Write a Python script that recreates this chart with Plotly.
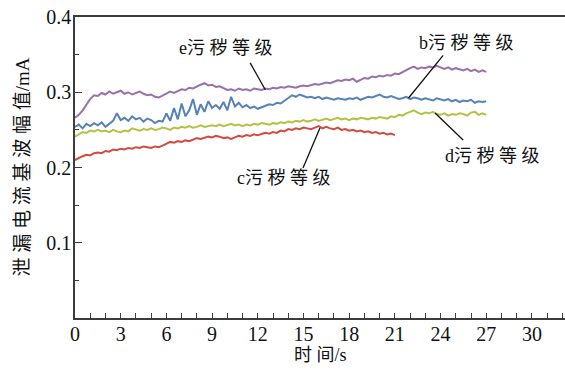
import plotly.graph_objects as go

# sampling grid (s)
t_step = 0.25
t_full = [round(i * t_step, 2) for i in range(109)]   # 0 .. 27
t_c = [round(i * t_step, 2) for i in range(85)]       # 0 .. 21

e_vals = [
    0.266, 0.270, 0.276, 0.284, 0.291, 0.296, 0.295, 0.299, 0.297, 0.301, 0.298, 0.300,
    0.302, 0.298, 0.300, 0.297, 0.299, 0.301, 0.298, 0.296, 0.297, 0.294, 0.293, 0.296,
    0.298, 0.301, 0.299, 0.302, 0.304, 0.303, 0.306, 0.305, 0.308, 0.310, 0.312, 0.309,
    0.310, 0.307, 0.308, 0.305, 0.303, 0.304, 0.302, 0.305, 0.303, 0.304, 0.302, 0.305,
    0.304, 0.303, 0.305, 0.304, 0.306, 0.305, 0.307, 0.306, 0.308, 0.307, 0.306, 0.308,
    0.309, 0.308, 0.310, 0.311, 0.310, 0.312, 0.313, 0.312, 0.314, 0.316, 0.315, 0.317,
    0.316, 0.318, 0.314, 0.316, 0.319, 0.318, 0.321, 0.320, 0.322, 0.321, 0.323, 0.322,
    0.325, 0.324, 0.327, 0.330, 0.332, 0.334, 0.331, 0.333, 0.332, 0.334, 0.333, 0.335,
    0.333, 0.331, 0.333, 0.330, 0.332, 0.331, 0.329, 0.331, 0.328, 0.330, 0.327, 0.329,
    0.327,
]

b_vals = [
    0.254, 0.257, 0.252, 0.258, 0.255, 0.259, 0.256, 0.260, 0.254, 0.258, 0.262, 0.272,
    0.263, 0.266, 0.262, 0.268, 0.264, 0.266, 0.261, 0.265, 0.263, 0.259, 0.262, 0.261,
    0.272, 0.262, 0.279, 0.264, 0.285, 0.268, 0.276, 0.291, 0.270, 0.284, 0.274, 0.288,
    0.279, 0.283, 0.278, 0.287, 0.276, 0.294, 0.281, 0.286, 0.280, 0.283, 0.279, 0.281,
    0.278, 0.280, 0.282, 0.284, 0.283, 0.286, 0.285, 0.289, 0.293, 0.296, 0.294, 0.297,
    0.295, 0.293, 0.294, 0.292, 0.294, 0.291, 0.293, 0.292, 0.290, 0.292, 0.291, 0.290,
    0.292, 0.291, 0.293, 0.290, 0.292, 0.294, 0.293, 0.295, 0.297, 0.294, 0.293, 0.295,
    0.293, 0.291, 0.292, 0.294, 0.291, 0.293, 0.292, 0.290, 0.292, 0.291, 0.289, 0.292,
    0.290, 0.289, 0.291, 0.288, 0.290, 0.287, 0.289, 0.288, 0.290, 0.286, 0.288, 0.287,
    0.288,
]

d_vals = [
    0.241, 0.244, 0.247, 0.246, 0.249, 0.248, 0.250, 0.248, 0.249, 0.247, 0.250, 0.248,
    0.247, 0.249, 0.248, 0.252, 0.250, 0.249, 0.251, 0.250, 0.252, 0.250, 0.251, 0.253,
    0.252, 0.250, 0.253, 0.252, 0.254, 0.253, 0.255, 0.253, 0.254, 0.256, 0.254, 0.255,
    0.256, 0.255, 0.257, 0.255, 0.256, 0.258, 0.256, 0.257, 0.255, 0.257, 0.256, 0.258,
    0.257, 0.259, 0.258, 0.257, 0.259, 0.258, 0.260, 0.259, 0.261, 0.260, 0.262, 0.261,
    0.263, 0.261, 0.262, 0.264, 0.262, 0.263, 0.265, 0.263, 0.264, 0.266, 0.264, 0.265,
    0.263, 0.265, 0.264, 0.266, 0.265, 0.264, 0.266, 0.265, 0.267, 0.266, 0.265, 0.268,
    0.267, 0.270, 0.269, 0.272, 0.274, 0.276, 0.273, 0.271, 0.273, 0.272, 0.274, 0.271,
    0.270, 0.272, 0.269, 0.271, 0.270, 0.272, 0.271, 0.269, 0.273, 0.274, 0.270, 0.272,
    0.270,
]

c_vals = [
    0.210, 0.213, 0.215, 0.217, 0.216, 0.219, 0.220, 0.219, 0.222, 0.221, 0.224, 0.223,
    0.225, 0.224, 0.226, 0.225, 0.227, 0.226, 0.228, 0.227, 0.226, 0.228, 0.227, 0.229,
    0.231, 0.234, 0.233, 0.235, 0.234, 0.236, 0.235, 0.237, 0.239, 0.238, 0.240, 0.241,
    0.240, 0.242, 0.241, 0.239, 0.240, 0.238, 0.240, 0.242, 0.241, 0.243, 0.242, 0.244,
    0.243, 0.245, 0.246, 0.245, 0.247, 0.246, 0.249, 0.248, 0.251, 0.250, 0.252, 0.251,
    0.253, 0.252, 0.251, 0.253, 0.255, 0.252, 0.254, 0.252, 0.251, 0.253, 0.250, 0.251,
    0.249, 0.250, 0.248, 0.249, 0.247, 0.248, 0.246, 0.247, 0.245, 0.246, 0.244, 0.245,
    0.243,
]

x_ticks = [0, 3, 6, 9, 12, 15, 18, 21, 24, 27, 30]
y_ticks = [0.1, 0.2, 0.3, 0.4]
y_minor = [0.05, 0.15, 0.25, 0.35]

sp = "\u2005"
labels = {
    "e": "e污" + sp + "秽" + sp + "等" + sp + "级",
    "b": "b污" + sp + "秽" + sp + "等" + sp + "级",
    "d": "d污" + sp + "秽" + sp + "等" + sp + "级",
    "c": "c污" + sp + "秽" + sp + "等" + sp + "级",
}
label_pos = {"e": (9.9, 0.359), "b": (25.72, 0.365), "d": (27.4, 0.215), "c": (13.7, 0.186)}
leader = {
    "e": ((11.5, 0.339), (12.5, 0.303)),
    "b": ((24.17, 0.349), (21.9, 0.2924)),
    "d": ((23.64, 0.2724), (25.48, 0.2365)),
    "c": ((16.08, 0.2525), (14.97, 0.1993)),
}

colors = {"e": "#9a70a9", "b": "#5782b6", "d": "#b4c243", "c": "#d24b40"}

fig = go.Figure()
for key, tt, vv in [("e", t_full, e_vals), ("b", t_full, b_vals), ("d", t_full, d_vals), ("c", t_c, c_vals)]:
    fig.add_trace(go.Scatter(x=tt, y=vv, mode="lines",
                             line=dict(color=colors[key], width=2),
                             showlegend=False, hoverinfo="skip"))

txt_font = dict(family="Liberation Serif, Noto Sans CJK SC", size=18, color="#111111")
for key in ["e", "b", "d", "c"]:
    (x0, y0), (x1, y1) = leader[key]
    fig.add_shape(type="line", x0=x0, y0=y0, x1=x1, y1=y1, xref="x", yref="y",
                  line=dict(color="#111111", width=1.3))
    lx, ly = label_pos[key]
    fig.add_annotation(x=lx, y=ly, xref="x", yref="y", text=labels[key],
                       showarrow=False, font=txt_font, xanchor="center", yanchor="middle")

# axis titles
ytitle_font = dict(family="Liberation Serif, Noto Sans CJK SC", size=19, color="#111111")
fig.add_annotation(x=0, y=0.5, xref="paper", yref="paper",
                   text="泄" + sp + "漏" + sp + "电" + sp + "流" + sp + "基" + sp + "波" + sp + "幅" + sp + "值/mA",
                   textangle=-90, showarrow=False, font=ytitle_font,
                   xanchor="center", yanchor="middle", xshift=-53)
fig.add_annotation(x=0.5, y=0, xref="paper", yref="paper",
                   text="时" + sp + "间/s", showarrow=False, font=txt_font,
                   xanchor="center", yanchor="middle", yshift=-37)

axis_col = "#3c3c3c"
tick_font = dict(family="Liberation Serif", size=20, color="#111111")
fig.update_xaxes(range=[0, 32.17], tickvals=x_ticks, ticks="inside", ticklen=5,
                 tickwidth=1, tickcolor=axis_col, showline=True, linecolor=axis_col,
                 linewidth=1.5, mirror=True, showgrid=False, zeroline=False,
                 tickfont=tick_font, ticklabelstandoff=-3,
                 minor=dict(dtick=1, tick0=0, ticks="inside", ticklen=5, tickwidth=1,
                            tickcolor=axis_col, showgrid=False))
fig.update_yaxes(range=[0, 0.4], tickvals=y_ticks, ticktext=["0.1", "0.2", "0.3", "0.4"],
                 ticks="inside", ticklen=7, tickwidth=1, tickcolor=axis_col,
                 showline=True, linecolor=axis_col, linewidth=1.5, showgrid=False,
                 zeroline=False, tickfont=tick_font, ticklabelstandoff=-2,
                 minor=dict(tickvals=y_minor, ticks="inside", ticklen=4, tickwidth=1,
                            tickcolor=axis_col, showgrid=False))

fig.update_layout(width=565, height=370, margin=dict(l=75, r=0, t=17, b=52),
                  plot_bgcolor="white", paper_bgcolor="white")

fig.write_html("out.html", config={"displayModeBar": False},
               post_script="document.body.style.margin='0';document.body.style.padding='0';")
